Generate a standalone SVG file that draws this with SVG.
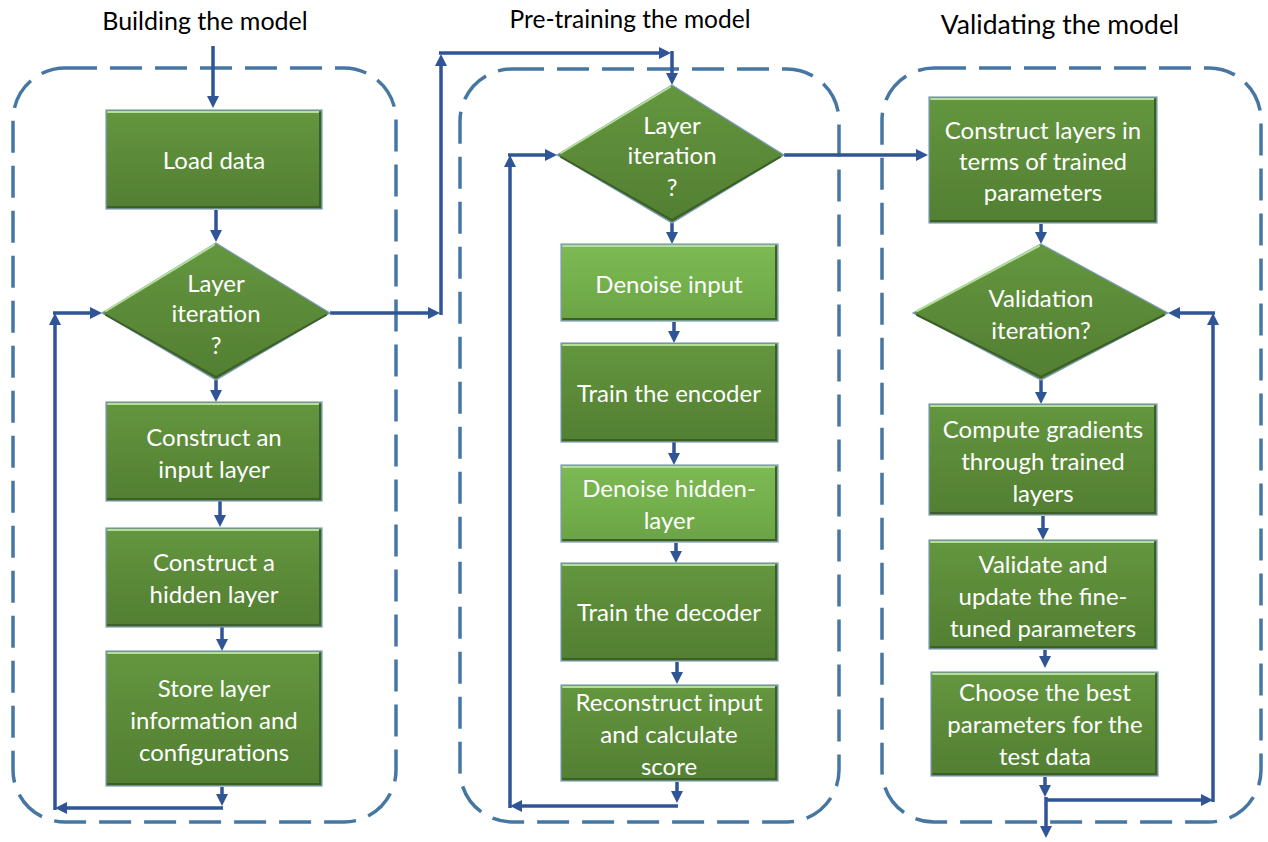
<svg xmlns="http://www.w3.org/2000/svg" width="1268" height="842" viewBox="0 0 1268 842">
  <defs>
    <linearGradient id="gDark" x1="0" y1="0" x2="0" y2="1">
      <stop offset="0" stop-color="#64963F"/>
      <stop offset="0.5" stop-color="#5B8A38"/>
      <stop offset="1" stop-color="#527F32"/>
    </linearGradient>
    <linearGradient id="gLight" x1="0" y1="0" x2="0" y2="1">
      <stop offset="0" stop-color="#7DBA54"/>
      <stop offset="0.5" stop-color="#74B04C"/>
      <stop offset="1" stop-color="#6BA345"/>
    </linearGradient>
    <marker id="ah" viewBox="0 0 12 12" refX="3" refY="6" markerWidth="12" markerHeight="12" markerUnits="userSpaceOnUse" orient="auto">
      <path d="M0,0 L12,6 L0,12 z" fill="#2F5597"/>
    </marker>
    <style>
      .title { font-family: Lato, "Liberation Sans", sans-serif; fill: #000; text-anchor: middle; }
      .lbl { font-family: Lato, "Liberation Sans", sans-serif; font-size: 24px; fill: #FFFFFF; text-anchor: middle; }
      .frame { fill: none; stroke: #4677A2; stroke-width: 3.5; stroke-dasharray: 32 13; }
      .box { fill: url(#gDark); stroke: #7F9CBD; stroke-width: 1.2; }
      .boxL { fill: url(#gLight); stroke: #7F9CBD; stroke-width: 1.2; }
      .hi { fill: none; stroke: #B5DE98; stroke-width: 2; stroke-linecap: round; }
      .sh { fill: none; stroke: #3B5F24; stroke-width: 2; stroke-linecap: round; }
      .arr { fill: none; stroke: #2F5597; stroke-width: 3.5; marker-end: url(#ah); }
    </style>
  </defs>

  <rect width="1268" height="842" fill="#FFFFFF"/>

  <!-- section titles -->
  <text class="title" x="205" y="30" font-size="25">Building the model</text>
  <text class="title" x="630" y="28" font-size="24.5">Pre-training the model</text>
  <text class="title" x="1060" y="34" font-size="26.5">Validating the model</text>

  <!-- dashed section frames -->
  <g id="frames">
    <rect class="frame" x="13" y="68" width="383" height="754" rx="52"/>
    <rect class="frame" x="460" y="69" width="379" height="753" rx="52"/>
    <rect class="frame" x="882" y="68" width="379" height="754" rx="52"/>
  </g>

  <!-- connectors -->
  <g id="connectors">
    <!-- building the model -->
    <line class="arr" x1="213" y1="46" x2="213" y2="99"/>
    <line class="arr" x1="216" y1="210" x2="216" y2="233"/>
    <line class="arr" x1="216" y1="380" x2="216" y2="393"/>
    <line class="arr" x1="220" y1="501" x2="220" y2="518"/>
    <line class="arr" x1="222" y1="627" x2="222" y2="642"/>
    <line class="arr" x1="222" y1="787" x2="222" y2="797"/>
    <line class="arr" x1="223" y1="808" x2="64" y2="808"/>
    <line class="arr" x1="55" y1="810" x2="55" y2="322"/>
    <line class="arr" x1="53" y1="313" x2="93" y2="313"/>
    <!-- hand-off to pre-training -->
    <line class="arr" x1="330" y1="313" x2="431" y2="313"/>
    <line class="arr" x1="441" y1="315" x2="441" y2="63"/>
    <line class="arr" x1="439" y1="53" x2="662" y2="53"/>
    <line class="arr" x1="672" y1="51" x2="672" y2="76"/>
    <!-- pre-training -->
    <line class="arr" x1="672" y1="223" x2="672" y2="235"/>
    <line class="arr" x1="674" y1="322" x2="674" y2="334"/>
    <line class="arr" x1="674" y1="442" x2="674" y2="456"/>
    <line class="arr" x1="676" y1="543" x2="676" y2="554"/>
    <line class="arr" x1="677" y1="662" x2="677" y2="675"/>
    <line class="arr" x1="677" y1="782" x2="677" y2="794"/>
    <line class="arr" x1="678" y1="806" x2="519" y2="806"/>
    <line class="arr" x1="510" y1="808" x2="510" y2="164"/>
    <line class="arr" x1="508" y1="155" x2="548" y2="155"/>
    <!-- hand-off to validation -->
    <line class="arr" x1="784" y1="155" x2="919" y2="155"/>
    <!-- validation -->
    <line class="arr" x1="1041" y1="224" x2="1041" y2="235"/>
    <line class="arr" x1="1041" y1="380" x2="1041" y2="395"/>
    <line class="arr" x1="1043" y1="516" x2="1043" y2="531"/>
    <line class="arr" x1="1045" y1="650" x2="1045" y2="659"/>
    <line class="arr" x1="1045" y1="777" x2="1045" y2="788"/>
    <line class="arr" x1="1046" y1="797" x2="1046" y2="829"/>
    <line class="arr" x1="1046" y1="800" x2="1204" y2="800"/>
    <line class="arr" x1="1213" y1="802" x2="1213" y2="322"/>
    <line class="arr" x1="1215" y1="313" x2="1177" y2="313"/>
  </g>

  <!-- building the model -->
  <g id="load-data">
    <rect class="box" x="106" y="110" width="216" height="99"/>
    <polyline class="hi" points="108,112 320,112"/>
    <polyline class="sh" points="108,207 320,207 320,112"/>
    <text class="lbl" x="214" y="169">Load data</text>
  </g>
  <g id="layer-iteration-1">
    <polygon class="box" points="216,243 330,313 216,380 102,313"/>
    <polyline class="hi" points="106,311 214,245"/>
    <polyline class="sh" points="326,315 216,377 106,315"/>
    <text class="lbl" x="216" y="292">Layer</text>
    <text class="lbl" x="216" y="322">iteration</text>
    <text class="lbl" x="216" y="354">?</text>
  </g>
  <g id="input-layer">
    <rect class="box" x="106" y="402" width="216" height="99"/>
    <polyline class="hi" points="108,404 320,404"/>
    <polyline class="sh" points="108,499 320,499 320,404"/>
    <text class="lbl" x="214" y="446">Construct an</text>
    <text class="lbl" x="214" y="478">input layer</text>
  </g>
  <g id="hidden-layer">
    <rect class="box" x="106" y="528" width="216" height="99"/>
    <polyline class="hi" points="108,530 320,530"/>
    <polyline class="sh" points="108,625 320,625 320,530"/>
    <text class="lbl" x="214" y="571">Construct a</text>
    <text class="lbl" x="214" y="603">hidden layer</text>
  </g>
  <g id="store-layer">
    <rect class="box" x="106" y="651" width="216" height="135"/>
    <polyline class="hi" points="108,653 320,653"/>
    <polyline class="sh" points="108,784 320,784 320,653"/>
    <text class="lbl" x="214" y="697">Store layer</text>
    <text class="lbl" x="214" y="729">information and</text>
    <text class="lbl" x="214" y="761">configurations</text>
  </g>

  <!-- pre-training the model -->
  <g id="layer-iteration-2">
    <polygon class="box" points="672,85 784,155 672,223 557,155"/>
    <polyline class="hi" points="561,153 670,87"/>
    <polyline class="sh" points="780,157 672,220 561,157"/>
    <text class="lbl" x="672" y="134">Layer</text>
    <text class="lbl" x="672" y="164">iteration</text>
    <text class="lbl" x="672" y="196">?</text>
  </g>
  <g id="denoise-input">
    <rect class="boxL" x="561" y="244" width="217" height="77"/>
    <polyline class="hi" points="563,246 776,246"/>
    <polyline class="sh" points="563,319 776,319 776,246"/>
    <text class="lbl" x="669" y="293">Denoise input</text>
  </g>
  <g id="train-encoder">
    <rect class="box" x="561" y="343" width="217" height="99"/>
    <polyline class="hi" points="563,345 776,345"/>
    <polyline class="sh" points="563,440 776,440 776,345"/>
    <text class="lbl" x="669" y="402">Train the encoder</text>
  </g>
  <g id="denoise-hidden">
    <rect class="boxL" x="561" y="465" width="217" height="77"/>
    <polyline class="hi" points="563,467 776,467"/>
    <polyline class="sh" points="563,540 776,540 776,467"/>
    <text class="lbl" x="669" y="497">Denoise hidden-</text>
    <text class="lbl" x="669" y="529">layer</text>
  </g>
  <g id="train-decoder">
    <rect class="box" x="561" y="563" width="217" height="98"/>
    <polyline class="hi" points="563,565 776,565"/>
    <polyline class="sh" points="563,659 776,659 776,565"/>
    <text class="lbl" x="669" y="621">Train the decoder</text>
  </g>
  <g id="reconstruct">
    <rect class="box" x="561" y="685" width="217" height="96"/>
    <polyline class="hi" points="563,687 776,687"/>
    <polyline class="sh" points="563,779 776,779 776,687"/>
    <text class="lbl" x="669" y="711">Reconstruct input</text>
    <text class="lbl" x="669" y="743">and calculate</text>
    <text class="lbl" x="669" y="775">score</text>
  </g>

  <!-- validating the model -->
  <g id="construct-trained">
    <rect class="box" x="929" y="97" width="228" height="126"/>
    <polyline class="hi" points="931,99 1155,99"/>
    <polyline class="sh" points="931,221 1155,221 1155,99"/>
    <text class="lbl" x="1043" y="139">Construct layers in</text>
    <text class="lbl" x="1043" y="170">terms of trained</text>
    <text class="lbl" x="1043" y="201">parameters</text>
  </g>
  <g id="validation-iteration">
    <polygon class="box" points="1041,244 1168,313 1041,380 913,313"/>
    <polyline class="hi" points="917,311 1039,246"/>
    <polyline class="sh" points="1164,315 1041,377 917,315"/>
    <text class="lbl" x="1041" y="307">Validation</text>
    <text class="lbl" x="1041" y="339">iteration?</text>
  </g>
  <g id="compute-gradients">
    <rect class="box" x="929" y="404" width="228" height="111"/>
    <polyline class="hi" points="931,406 1155,406"/>
    <polyline class="sh" points="931,513 1155,513 1155,406"/>
    <text class="lbl" x="1043" y="438">Compute gradients</text>
    <text class="lbl" x="1043" y="470">through trained</text>
    <text class="lbl" x="1043" y="502">layers</text>
  </g>
  <g id="validate-update">
    <rect class="box" x="929" y="540" width="228" height="109"/>
    <polyline class="hi" points="931,542 1155,542"/>
    <polyline class="sh" points="931,647 1155,647 1155,542"/>
    <text class="lbl" x="1043" y="573">Validate and</text>
    <text class="lbl" x="1043" y="605">update the fine-</text>
    <text class="lbl" x="1043" y="637">tuned parameters</text>
  </g>
  <g id="choose-best">
    <rect class="box" x="931" y="672" width="227" height="104"/>
    <polyline class="hi" points="933,674 1156,674"/>
    <polyline class="sh" points="933,774 1156,774 1156,674"/>
    <text class="lbl" x="1045" y="701">Choose the best</text>
    <text class="lbl" x="1045" y="733">parameters for the</text>
    <text class="lbl" x="1045" y="765">test data</text>
  </g>
</svg>
